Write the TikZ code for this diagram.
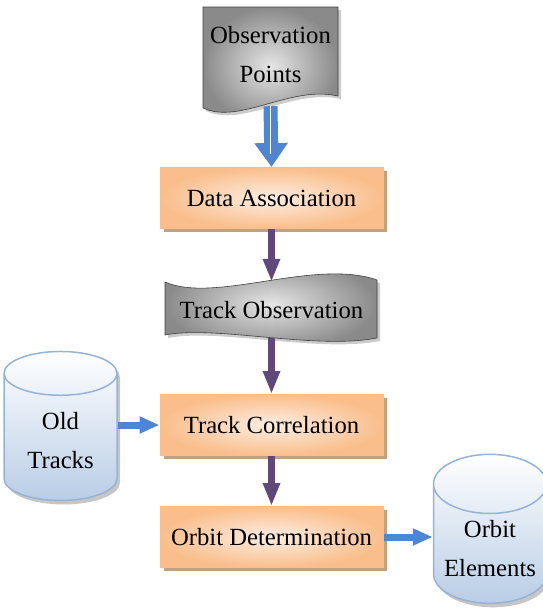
\documentclass[tikz,border=0pt]{standalone}
\usepackage{fontspec}
\setmainfont{Liberation Serif}
\usetikzlibrary{calc}
\usetikzlibrary{positioning}
\usetikzlibrary{arrows.meta}
\usetikzlibrary{shapes.geometric}
\usetikzlibrary{shadows}

\definecolor{boxorange}{RGB}{250,190,140}
\definecolor{boxcream}{RGB}{253,238,226}
\definecolor{boxshadow}{RGB}{196,160,124}
\definecolor{flowpurple}{RGB}{95,73,122}
\definecolor{flowblue}{RGB}{79,134,212}
\definecolor{cylblue}{RGB}{185,205,229}
\definecolor{cylline}{RGB}{149,179,215}

\tikzset{
	bigfont/.style={font=\fontsize{24.7}{39}\selectfont},
	process/.style={rectangle, bigfont, draw=boxorange, line width=1pt,
		inner color=boxcream, outer color=boxorange,
		minimum width=223pt, minimum height=61pt,
		drop shadow={shadow xshift=3.5pt, shadow yshift=-3.5pt, fill=boxshadow, opacity=1}},
	store/.style={cylinder, shape border rotate=90, aspect=0.6, bigfont, align=center,
		draw=cylline, line width=1.5pt, top color=white, bottom color=cylblue,
		minimum width=113pt, minimum height=149pt,
		drop shadow={shadow xshift=3pt, shadow yshift=-4pt, fill=gray!45, opacity=1}},
	paper/.style={draw=gray!50!black, line width=.6pt, inner color=black!10, outer color=black!46,
		drop shadow={shadow xshift=3pt, shadow yshift=-3pt, fill=gray!40, opacity=1}},
	papertext/.style={bigfont, align=center, inner sep=0pt},
	flow/.style={line width=7pt, draw=flowpurple, -{Triangle[length=23pt,width=16pt]}},
	feed/.style={line width=7pt, draw=flowblue, -{Triangle[length=20pt,width=16pt]}},
}

\begin{document}
\begin{tikzpicture}[x=1pt, y=1pt]
	\useasboundingbox (0,0) rectangle (542,-614);

	% document and punched tape outlines
	\draw[paper] (203,-7) -- (338,-7) -- (338,-96) .. controls (290,-85) and (240,-125) .. (203,-108) -- cycle;
	\draw[paper] (165,-282) .. controls (215,-304) and (315,-258) .. (377,-280) -- (377,-338)
		.. controls (315,-350) and (215,-325) .. (165,-335) -- cycle;

	\node[papertext, minimum width=135pt, minimum height=102pt] (obspts) at (270.5,-55) {Observation\\Points};
	\node[papertext, minimum width=212pt, minimum height=56pt] (trackobs) at (271.5,-310) {Track Observation};

	% process boxes
	\node[process] (assoc) at (271.5,-198) {Data Association};
	\node[process] (corr) at (271.5,-425) {Track Correlation};
	\node[process] (orbdet) at (271.5,-537) {Orbit Determination};

	% stores
	\node[store] (oldtrk) at (60.5,-441) {Old\\Tracks};
	\node[store] (orbel) at (490,-549) {Orbit\\Elements};

	% connectors
	\draw[flowblue, line width=14pt, -{Triangle[length=24pt,width=32pt]}] (obspts.south) -- (assoc.north);
	\draw[white, line width=1pt] (obspts.south) -- ++(0,-48);
	\draw[flow] (assoc.south) -- (trackobs.north);
	\draw[flow] (trackobs.south) -- (corr.north);
	\draw[flow] (corr.south) -- (orbdet.north);
	\draw[feed] (oldtrk.east |- corr.west) -- (corr.west);
	\draw[feed] (orbdet.east) -- (orbdet.east -| orbel.west);
\end{tikzpicture}
\end{document}
